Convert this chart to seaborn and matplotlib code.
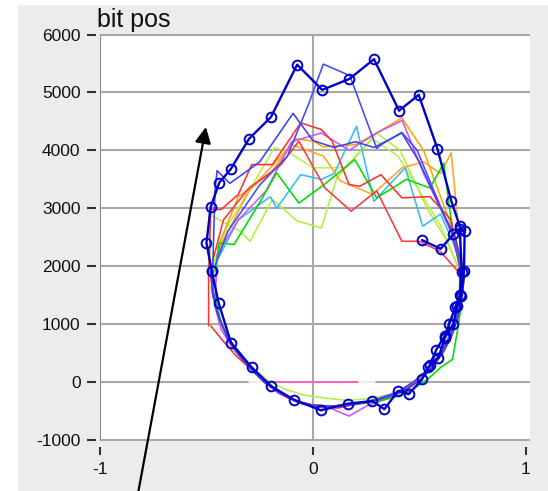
import pandas as pd
import seaborn as sns
import matplotlib.pyplot as plt
from matplotlib.patches import Rectangle

# ---- values ----
y_ticks = [-1000, 0, 1000, 2000, 3000, 4000, 5000, 6000]
x_ticks = [-1, 0, 1]

# lower arcs shared by several traces (right side, down round the bottom, up the left)
arc_a_x = [0.71, 0.70, 0.68, 0.65, 0.61, 0.56, 0.51, 0.44, 0.36, 0.27, 0.18, 0.08, 0.0, -0.08, -0.16, -0.23, -0.29, -0.34, -0.40, -0.44, -0.47, -0.48]
arc_a_y = [1800, 1450, 1100, 780, 500, 250, 50, -120, -250, -340, -390, -420, -400, -330, -180, 0, 220, 430, 750, 1100, 1500, 1900]
arc_b_x = [0.69, 0.69, 0.67, 0.63, 0.59, 0.54, 0.48, 0.40, 0.30, 0.20, 0.10, 0.02, -0.06, -0.14, -0.22, -0.28, -0.35, -0.41, -0.45, -0.47, -0.47]
arc_b_y = [1800, 1400, 1050, 700, 450, 220, 20, -170, -300, -380, -430, -420, -360, -220, -20, 200, 480, 850, 1200, 1600, 1950]
arc_c_x = [0.70, 0.68, 0.66, 0.62, 0.57, 0.50, 0.42, 0.32, 0.22, 0.12, 0.04, -0.05, -0.13, -0.21, -0.28, -0.36, -0.42, -0.48]
arc_c_y = [1700, 1300, 900, 600, 300, 80, -150, -290, -370, -450, -440, -380, -250, -60, 180, 450, 700, 970]

# dark blue trace with circle markers
mk1_x = [-0.475, -0.50, -0.48, -0.44, -0.385, -0.30, -0.197, -0.074, 0.044, 0.172, 0.287, 0.405, 0.497, 0.585, 0.65, 0.69, 0.713, 0.71,
         0.697, 0.677, 0.66, 0.62, 0.59, 0.54, 0.513, 0.45, 0.40, 0.336, 0.28, 0.164, 0.038, -0.09, -0.197, -0.287, -0.385, -0.443, -0.475]
mk1_y = [1915, 2400, 3020, 3440, 3680, 4200, 4575, 5480, 5045, 5235, 5575, 4685, 4960, 4030, 3130, 2690, 2600, 1915,
         1480, 1310, 1000, 765, 420, 250, 45, -210, -155, -470, -330, -375, -490, -305, -70, 250, 680, 1370, 1915]
mk2_x = [0.513, 0.60, 0.66, 0.69, 0.70, 0.69, 0.67, 0.64, 0.62, 0.58, 0.55]
mk2_y = [2450, 2300, 2550, 2650, 1900, 1500, 1300, 1000, 800, 560, 300]

# upper (jagged) parts of the thin traces, left to right
blue1_x = [-0.47, -0.46, -0.45, -0.39, -0.25, -0.093, 0.0, 0.1, 0.2, 0.287, 0.418, 0.5, 0.6, 0.67, 0.70]
blue1_y = [2000, 3300, 3650, 3430, 3800, 4640, 4170, 4050, 4150, 4050, 4300, 3800, 3000, 2500, 2000]
blue2_x = [-0.46, -0.40, -0.25, -0.12, -0.02, 0.049, 0.174, 0.30, 0.33, 0.418, 0.49, 0.58, 0.65, 0.69]
blue2_y = [2000, 2600, 3400, 3900, 4800, 5490, 5290, 4035, 4120, 4310, 4000, 3200, 2600, 2000]
redA_x = [-0.49, -0.49, -0.48, -0.43, -0.35, -0.287, -0.19, -0.057, 0.04, 0.09, 0.17, 0.22, 0.32, 0.418, 0.55, 0.65, 0.69]
redA_y = [970, 1800, 2980, 2980, 3240, 3755, 3755, 4475, 4360, 4160, 3410, 3380, 3580, 3180, 3200, 2800, 1970]
redB_x = [-0.47, -0.42, -0.30, -0.15, -0.066, 0.057, 0.18, 0.30, 0.418, 0.50, 0.60, 0.66]
redB_y = [2100, 2800, 3350, 3750, 4160, 3350, 2950, 3300, 2430, 2430, 2250, 2000]
orangeA_x = [-0.45, -0.35, -0.2, -0.08, 0.0, 0.05, 0.2, 0.3, 0.418, 0.52, 0.6, 0.66, 0.70]
orangeA_y = [2300, 3200, 3600, 4200, 4160, 4060, 4100, 4300, 4560, 4000, 3200, 2600, 2000]
orangeB_x = [-0.44, -0.3, -0.1, 0.05, 0.13, 0.28, 0.42, 0.52, 0.6, 0.65, 0.68, 0.70]
orangeB_y = [2300, 3300, 4100, 3900, 3470, 3240, 3700, 3800, 3600, 3960, 2800, 2000]
violet_x = [-0.45, -0.35, -0.22, -0.1, 0.04, 0.17, 0.3, 0.42, 0.52, 0.6, 0.66, 0.70,
            0.70, 0.69, 0.67, 0.63, 0.58, 0.52, 0.45, 0.36, 0.26, 0.17, 0.08, 0.0, -0.08, -0.16, -0.24, -0.31, -0.38, -0.43, -0.46, -0.45]
violet_y = [2200, 2800, 3300, 4150, 4300, 4000, 4300, 4520, 3600, 3000, 2500, 2000,
            1800, 1400, 1000, 650, 350, 100, -120, -280, -400, -590, -450, -420, -340, -200, 50, 300, 600, 900, 1300, 2200]
green_x = [-0.46, -0.44, -0.37, -0.25, -0.17, -0.066, 0.05, 0.197, 0.30, 0.44, 0.55, 0.615, 0.66, 0.70,
           0.71, 0.70, 0.68, 0.656, 0.60, 0.54, 0.46, 0.38, 0.28, 0.18, 0.08, 0.0, -0.08, -0.16, -0.23, -0.30, -0.37, -0.43, -0.46]
green_y = [1900, 2400, 2375, 3100, 3610, 3090, 3400, 3840, 3180, 3500, 3350, 3780, 2500, 2000,
           1800, 1400, 900, 390, 250, 50, -150, -270, -350, -400, -420, -400, -330, -170, 50, 280, 560, 1000, 1500]
lgreen_x = [-0.48, -0.49, -0.34, -0.295, -0.19, -0.074, 0.04, 0.113, 0.30, 0.41, 0.535, 0.63, 0.68,
            0.70, 0.69, 0.67, 0.63, 0.58, 0.52, 0.45, 0.36, 0.26, 0.16, 0.06, -0.04, -0.12, -0.2, -0.27, -0.34, -0.40, -0.45, -0.48]
lgreen_y = [2000, 2900, 2600, 2430, 3150, 2780, 2660, 3530, 4300, 4000, 3010, 2430, 2000,
            1800, 1400, 1000, 680, 380, 120, -80, -220, -290, -320, -280, -230, -140, 0, 200, 450, 800, 1200, 1650]
lgreen2_x = [-0.47, -0.40, -0.30, -0.18, -0.11, 0.0, 0.15, 0.28, 0.40, 0.5, 0.6, 0.67]
lgreen2_y = [2000, 2700, 3300, 4050, 3960, 3700, 3700, 4200, 3900, 3300, 2700, 2100]
cyan_x = [-0.45, -0.35, -0.2, -0.17, -0.057, 0.04, 0.1, 0.205, 0.287, 0.434, 0.516, 0.6, 0.66, 0.70]
cyan_y = [2100, 2800, 3200, 3000, 3580, 3500, 3600, 4415, 3120, 3700, 2690, 2900, 2400, 2000]
# short flat traces on the zero line
white_x = [-0.30, 0.29]
white_y = [0, 0]
pink_x = [-0.22, 0.21]
pink_y = [0, 0]

thin = {
    'white': (white_x, white_y, '#FFFFFF'),
    'lgreen2': (lgreen2_x + arc_a_x, lgreen2_y + arc_a_y, '#B8F050'),
    'lgreen': (lgreen_x, lgreen_y, '#B0F040'),
    'cyan': (cyan_x + arc_b_x, cyan_y + arc_b_y, '#33BBFF'),
    'orangeB': (orangeB_x + arc_a_x, orangeB_y + arc_a_y, '#FFA520'),
    'orangeA': (orangeA_x + arc_b_x, orangeA_y + arc_b_y, '#FFA500'),
    'violet': (violet_x, violet_y, '#C855FF'),
    'green': (green_x, green_y, '#00DD00'),
    'redB': (redB_x + arc_a_x, redB_y + arc_a_y, '#FF3838'),
    'redA': (redA_x + arc_c_x, redA_y + arc_c_y, '#FF3030'),
    'blue2': (blue2_x + arc_b_x, blue2_y + arc_b_y, '#4848FF'),
    'blue1': (blue1_x + arc_a_x, blue1_y + arc_a_y, '#4040F0'),
    'pink': (pink_x, pink_y, '#FF44B0'),
}
frames = [pd.DataFrame({'x': v[0], 'y': v[1], 'trace': k}) for k, v in thin.items()]
df = pd.concat(frames, ignore_index=True)
palette = {k: v[2] for k, v in thin.items()}

mk = pd.concat([pd.DataFrame({'x': mk1_x, 'y': mk1_y, 'trace': 'mk1'}),
                pd.DataFrame({'x': mk2_x, 'y': mk2_y, 'trace': 'mk2'})], ignore_index=True)

# ---- plot ----
sns.set_style('white')
plt.rcParams['font.family'] = ['Liberation Sans', 'DejaVu Sans']
plt.rcParams['axes.unicode_minus'] = False

fig = plt.figure(figsize=(5.48, 4.91), dpi=100, facecolor='#ECECEE')
fig.add_artist(Rectangle((0, 0), 17 / 548, 1, transform=fig.transFigure, color='white', zorder=0))
fig.add_artist(Rectangle((0, 1 - 4 / 491), 1, 4 / 491, transform=fig.transFigure, color='white', zorder=0))

ax = fig.add_axes([100 / 548, 1 - 441 / 491, 430 / 548, 407 / 491])
ax.set_facecolor('white')

ax.grid(axis='y', color='#A8A8A8', lw=1.5)
ax.axvline(0, color='#A8A8A8', lw=1.5, zorder=0.5)
ax.axvline(-1, color='#888888', lw=1.5, zorder=0.6)
ax.set_axisbelow(True)

sns.lineplot(data=df, x='x', y='y', hue='trace', palette=palette, sort=False,
             estimator=None, lw=1.15, legend=False, ax=ax)
sns.lineplot(data=mk, x='x', y='y', units='trace', color='#0000CC', sort=False,
             estimator=None, lw=1.7, marker='o', markersize=7, markerfacecolor='none',
             markeredgecolor='#0000CC', markeredgewidth=1.4, ax=ax)

ax.set_xlim(-1.0, 1.02)
ax.set_ylim(-1020, 6010)
ax.set_xticks(x_ticks)
ax.set_yticks(y_ticks)
ax.set_xticklabels([str(t) for t in x_ticks])
ax.set_yticklabels([str(t) for t in y_ticks])
ax.set_xlabel('')
ax.set_ylabel('')
for s in ax.spines.values():
    s.set_visible(False)
ax.spines['left'].set_position(('outward', 3))
ax.spines['bottom'].set_position(('outward', 4))
ax.tick_params(axis='both', direction='out', color='#333333', width=1.5,
               labelsize=12.5, labelcolor='#111111')
ax.tick_params(axis='y', length=6.5, pad=4.5, left=True)
ax.tick_params(axis='x', length=6, pad=5, bottom=True)

fig.text(97 / 548, 1 - 27 / 491, 'bit pos', fontsize=18, color='#111111', va='baseline')

ax.annotate('', xy=(-0.50, 4450), xycoords='data',
            xytext=(138 / 548, -0.005), textcoords='figure fraction',
            arrowprops=dict(arrowstyle='-|>', color='black', lw=1.6, mutation_scale=24),
            annotation_clip=False)

fig.savefig('out.png', dpi=100, facecolor=fig.get_facecolor())
